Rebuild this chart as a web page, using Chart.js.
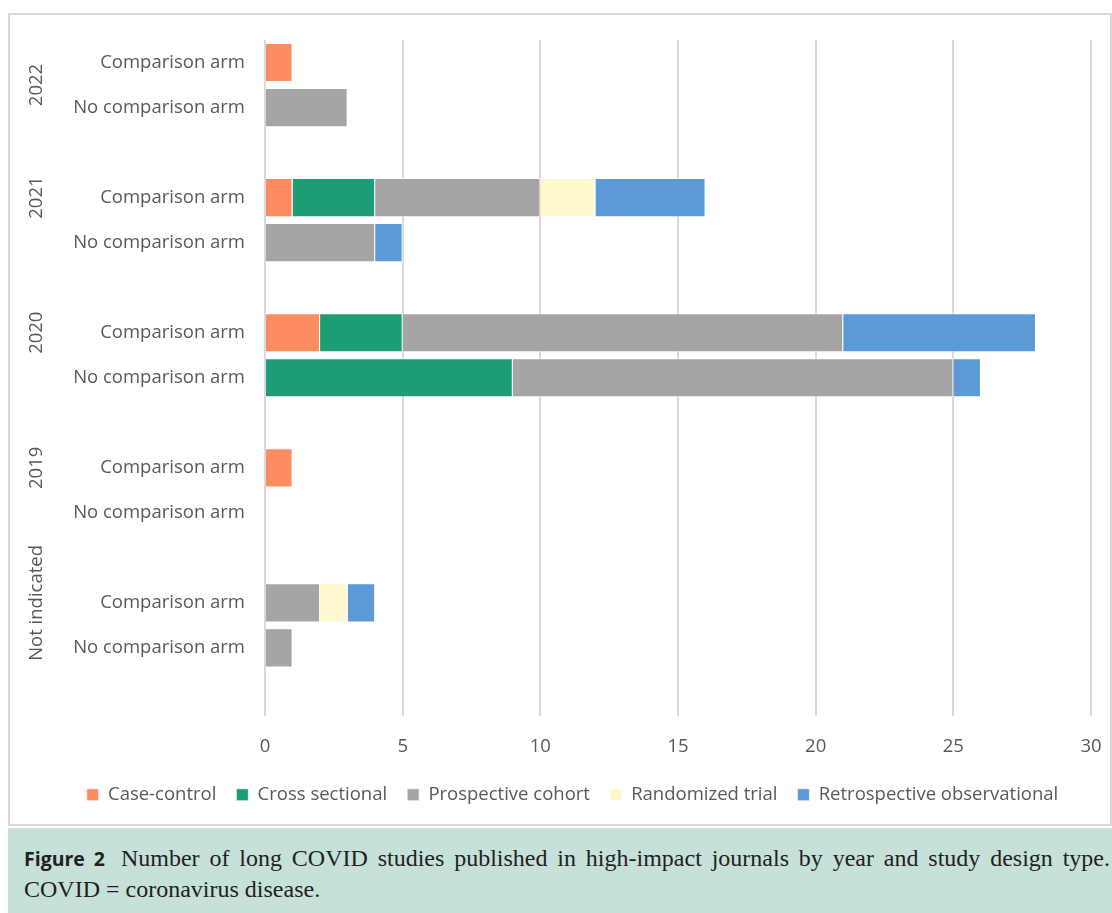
<!DOCTYPE html>
<html>
<head>
<meta charset="utf-8">
<script src="https://cdn.jsdelivr.net/npm/chart.js@4.4.1/dist/chart.umd.min.js"></script>
<style>
  body { margin: 0; background: #fff; }
  #box { position: absolute; left: 8px; top: 13px; width: 1104px; height: 813px; box-sizing: border-box; border: 2px solid #d9d9d9; }
  #caption { position: absolute; left: 8px; top: 828px; width: 1104px; height: 85px; background: #c5e1d9; box-sizing: border-box; padding: 15px 2px 0 16px; font-family: "Liberation Serif", serif; font-size: 24px; line-height: 30px; color: #231f20; }
  #caption .l1 { text-align: justify; text-align-last: justify; white-space: nowrap; }
  #caption b { font-family: "Open Sans", sans-serif; font-size: 19.5px; margin-right: 16px; }
</style>
</head>
<body>
<div id="box"><canvas id="chart" width="1100" height="809"></canvas></div>
<div id="caption"><div class="l1"><b>Figure 2</b>Number of long COVID studies published in high-impact journals by year and study design type.</div><div>COVID = coronavirus disease.</div></div>
<script>
const years = ['2022', '2021', '2020', '2019', 'Not indicated'];
const arms = ['Comparison arm', 'No comparison arm'];
// values per year, in the order comparison arm, no comparison arm
const caseControl   = [1, 0,  1, 0,  2, 0,   1, 0,  0, 0];
const crossSect     = [0, 0,  3, 0,  3, 9,   0, 0,  0, 0];
const prospective   = [0, 3,  6, 4, 16, 16,  0, 0,  2, 1];
const randomized    = [0, 0,  2, 0,  0, 0,   0, 0,  1, 0];
const retrospective = [0, 0,  4, 1,  7, 1,   0, 0,  1, 0];
const xTicks = [0, 5, 10, 15, 20, 25, 30];

// build slots: two arms then a blank gap per year
const labels = [];
years.forEach(() => { labels.push(arms[0], arms[1], ''); });
function slots(vals) {
  const out = [];
  for (let i = 0; i < years.length; i++) out.push(vals[i * 2], vals[i * 2 + 1], null);
  return out;
}

const font = { family: 'Open Sans', size: 18.5 };
const textColor = '#595959';

const yearLabels = {
  id: 'yearLabels',
  afterLayout(chart) {
    // nudge the legend right, like the original
    chart.legend.left += 44;
  },
  afterDraw(chart) {
    const y = chart.scales.y, ctx = chart.ctx;
    ctx.save();
    ctx.font = '18.5px "Open Sans"';
    ctx.fillStyle = textColor;
    ctx.textAlign = 'center';
    ctx.textBaseline = 'middle';
    years.forEach((yr, i) => {
      // a year group takes the blank row above it (except the first)
      const first = i === 0 ? 0 : i * 3 - 1;
      const c = (y.getPixelForValue(first) + y.getPixelForValue(i * 3 + 1)) / 2;
      ctx.save();
      ctx.translate(27, c);
      ctx.rotate(-Math.PI / 2);
      ctx.fillText(yr, 0, 0);
      ctx.restore();
    });
    ctx.restore();
  }
};

const series = [
  ['Case-control', caseControl, '#fe8c61'],
  ['Cross sectional', crossSect, '#1c9d77'],
  ['Prospective cohort', prospective, '#a5a5a5'],
  ['Randomized trial', randomized, '#fff8cd'],
  ['Retrospective observational', retrospective, '#5b9ad6']
];

new Chart(document.getElementById('chart'), {
  type: 'bar',
  data: {
    labels,
    datasets: series.map(([name, vals, col]) => ({
      label: name, data: slots(vals), backgroundColor: col,
      borderColor: 'rgba(255,255,255,0.7)', borderWidth: 1,
      categoryPercentage: 1, barPercentage: 0.87
    }))
  },
  options: {
    indexAxis: 'y',
    responsive: false,
    animation: false,
    layout: { padding: { top: 25, right: 19, left: 0, bottom: 10 } },
    scales: {
      x: {
        stacked: true, min: 0, max: 30,
        afterBuildTicks(s) { s.ticks = xTicks.map(v => ({ value: v })); },
        afterFit(s) { s.height = 50; s.paddingLeft = 0; s.paddingRight = 0; },
        grid: { color: '#d9d9d9', lineWidth: 2, drawTicks: false },
        border: { display: false },
        ticks: { font, color: textColor, padding: 20 }
      },
      y: {
        stacked: true,
        afterFit(s) { s.width = 255; s.paddingTop = 0; s.paddingBottom = 0; },
        grid: { display: false },
        border: { display: false },
        ticks: { font, color: textColor, padding: 12, autoSkip: false }
      }
    },
    plugins: {
      legend: {
        position: 'bottom',
        labels: { font, color: textColor, boxWidth: 12, boxHeight: 12, padding: 20 }
      },
      tooltip: { enabled: false }
    }
  },
  plugins: [yearLabels]
});
</script>
</body>
</html>
